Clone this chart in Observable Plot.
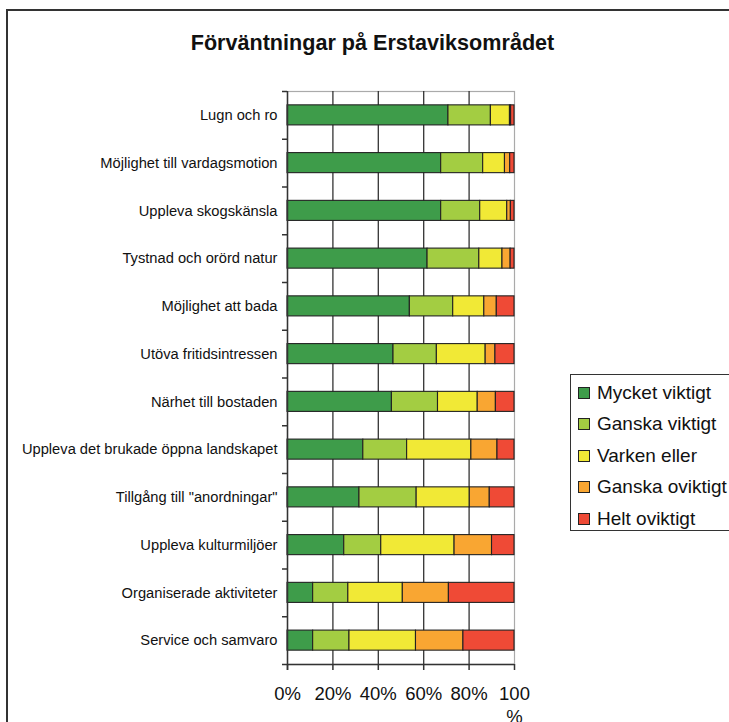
<!DOCTYPE html>
<html>
<head>
<meta charset="utf-8">
<script src="https://cdn.jsdelivr.net/npm/d3@7"></script>
<script src="https://cdn.jsdelivr.net/npm/@observablehq/plot@0.6"></script>
<style>
  html, body { margin: 0; padding: 0; background: #fff; }
  #wrap { position: relative; width: 729px; height: 722px; overflow: hidden; background: #fff;
          font-family: "Liberation Sans", Arial, sans-serif; color: #111; }
  #outer { position: absolute; left: 6px; top: 9px; width: 800px; height: 800px;
           border-left: 2px solid #333; border-top: 2px solid #333; box-sizing: border-box; }
  #title { position: absolute; left: 0; width: 745px; top: 32px; text-align: center;
           font-size: 21.6px; line-height: 21px; font-weight: bold; white-space: nowrap; }
  #chart { position: absolute; left: 0; top: 0; }
  #legend { position: absolute; left: 570px; top: 374px; width: 300px; height: 157px;
            border: 1.5px solid #333; box-sizing: border-box; background: #fff; }
  .item { position: absolute; left: 0; white-space: nowrap; font-size: 19px; line-height: 19px; }
  .sw { position: absolute; width: 12px; height: 12px; border: 1px solid #222; box-sizing: border-box; }
</style>
</head>
<body>
<div id="wrap">
  <div id="outer"></div>
  <div id="title">Förväntningar på Erstaviksområdet</div>
  <div id="chart"></div>
  <div id="legend"></div>
</div>
<script>
// ---- Data ----
const categories = [
  "Lugn och ro",
  "Möjlighet till vardagsmotion",
  "Uppleva skogskänsla",
  "Tystnad och orörd natur",
  "Möjlighet att bada",
  "Utöva fritidsintressen",
  "Närhet till bostaden",
  "Uppleva det brukade öppna landskapet",
  "Tillgång till \"anordningar\"",
  "Uppleva kulturmiljöer",
  "Organiserade aktiviteter",
  "Service och samvaro"
];
const levels = ["Mycket viktigt", "Ganska viktigt", "Varken eller", "Ganska oviktigt", "Helt oviktigt"];
const levelColors = ["#3e9c4a", "#a3cd42", "#f1e936", "#f9a632", "#ef4a36"];

const mycketViktigt  = [70.9, 67.7, 67.7, 61.7, 53.9, 46.7, 46.0, 33.4, 31.7, 25.0, 11.3, 11.3];
const ganskaViktigt  = [18.7, 18.5, 17.2, 22.8, 19.1, 19.1, 20.3, 19.3, 25.2, 16.3, 15.5, 16.0];
const varkenEller    = [ 8.4,  9.6, 11.9, 10.2, 13.7, 21.5, 17.5, 28.3, 23.4, 32.3, 24.0, 29.3];
const ganskaOviktigt = [ 0.5,  2.3,  1.6,  3.6,  5.5,  4.3,  8.0, 11.5,  8.8, 16.5, 20.3, 20.9];
const heltOviktigt   = [ 1.5,  1.9,  1.6,  1.7,  7.8,  8.4,  8.2,  7.5, 10.9,  9.9, 28.9, 22.5];

const xTicks = [0, 20, 40, 60, 80, 100];
const gridTicks = [20, 40, 60, 80];

const series = [mycketViktigt, ganskaViktigt, varkenEller, ganskaOviktigt, heltOviktigt];
const data = [];
categories.forEach((c, i) => {
  levels.forEach((l, j) => data.push({category: c, level: l, value: series[j][i]}));
});

// ---- Layout ----
const W = 729, H = 722;
const mTop = 91, mBottom = 58, mLeft = 287, mRight = 215;
const step = (H - mTop - mBottom) / categories.length;

const chart = Plot.plot({
  width: W,
  height: H,
  marginTop: mTop,
  marginBottom: mBottom,
  marginLeft: mLeft,
  marginRight: mRight,
  style: {fontFamily: "'Liberation Sans', Arial, sans-serif", color: "#111", background: "transparent", overflow: "visible"},
  x: {domain: [0, 100]},
  y: {domain: categories, paddingInner: 0.58, paddingOuter: 0.29, round: false},
  color: {domain: levels, range: levelColors},
  marks: [
    Plot.frame({stroke: "#aaa", strokeWidth: 1.2}),
    Plot.ruleX(gridTicks, {stroke: "#333", strokeWidth: 1.3}),
    Plot.barX(data, {
      x: "value", y: "category", fill: "level", z: "level",
      stroke: "#222", strokeWidth: 1.1
    }),
    // y axis line (extends down to form the 0% tick)
    Plot.ruleX([0], {stroke: "#333", strokeWidth: 1.5, insetBottom: -6}),
    // y tick marks at band boundaries
    Plot.ruleY(categories, {y: d => d, x1: 0, x2: 0, insetLeft: -5, dy: -step / 2, stroke: "#333", strokeWidth: 1.5}),
    // bottom axis line
    Plot.ruleY([categories[categories.length - 1]], {y: d => d, x1: 0, x2: 100, insetLeft: -5, dy: step / 2, stroke: "#333", strokeWidth: 1.5}),
    Plot.axisY({tickSize: 0, tickPadding: 10, fontSize: 14.7, label: null}),
    Plot.axisX({
      ticks: xTicks, tickSize: 6, tickPadding: 13, fontSize: 18.5, label: null,
      stroke: "#333", strokeWidth: 1.5, lineHeight: 1.25,
      tickFormat: d => d === 100 ? "100\n%" : d + "%"
    })
  ]
});
document.getElementById("chart").appendChild(chart);

// ---- Legend ----
const legend = document.getElementById("legend");
levels.forEach((l, i) => {
  const baseline = 398 + i * 31.4 - 374;
  const sw = document.createElement("div");
  sw.className = "sw";
  sw.style.left = (577 - 570) + "px";
  sw.style.top = (baseline - 12) + "px";
  sw.style.background = levelColors[i];
  legend.appendChild(sw);
  const t = document.createElement("div");
  t.className = "item";
  t.style.left = (596 - 570) + "px";
  t.style.top = (baseline - 16.1) + "px";
  t.textContent = l;
  legend.appendChild(t);
});
</script>
</body>
</html>
